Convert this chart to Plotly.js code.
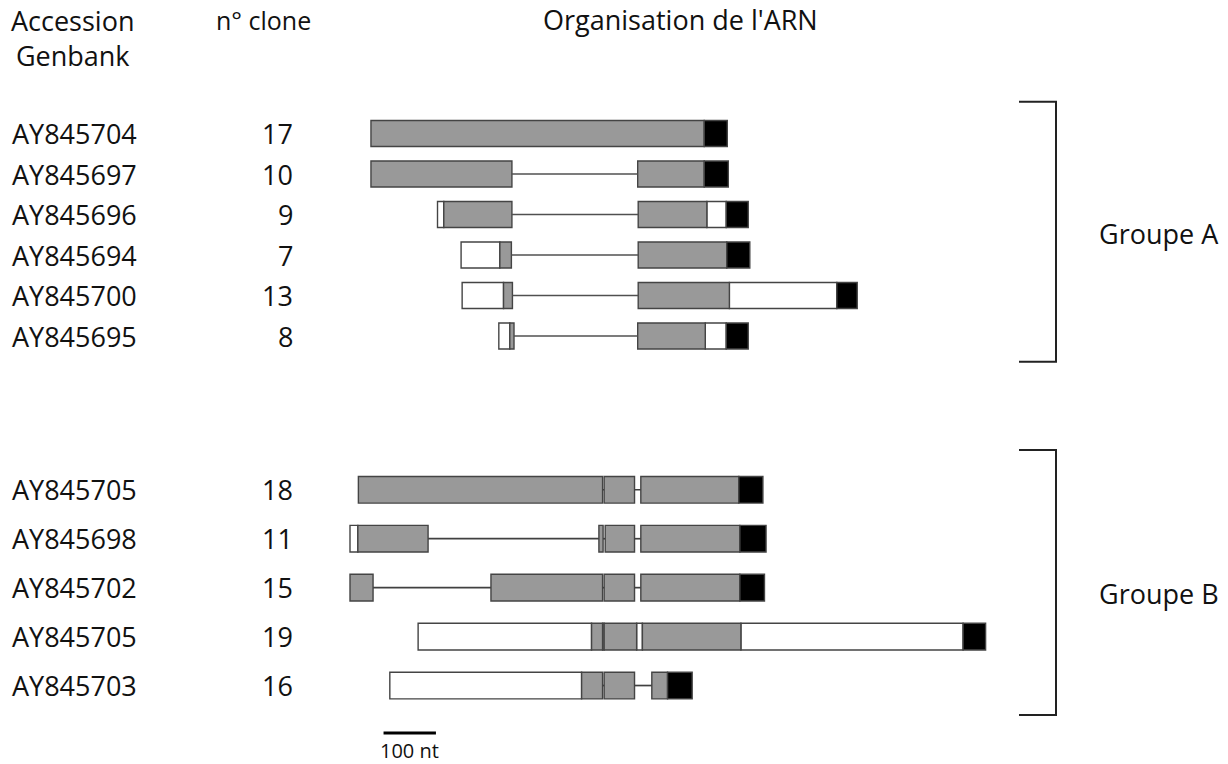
<!DOCTYPE html>
<html>
<head>
<meta charset="utf-8">
<script src="https://cdn.plot.ly/plotly-3.0.1.min.js"></script>
<style>html,body{margin:0;padding:0;background:#fff;}#chart{width:1228px;height:764px;}</style>
</head>
<body>
<div id="chart"></div>
<script>
// ---- Data (positions in nucleotides) ----
const clonesA = ["17", "10", "9", "7", "13", "8"];
const accessionA = ["AY845704", "AY845697", "AY845696", "AY845694", "AY845700", "AY845695"];
const clonesB = ["18", "11", "15", "19", "16"];
const accessionB = ["AY845705", "AY845698", "AY845702", "AY845705", "AY845703"];

// segment = [start, end, kind]  kind: U = UTR (white), C = coding (grey), S = end (black), I = intron (line)
const clone17 = [[40, 676, "C"], [676, 720, "S"]];
const clone10 = [[40, 309, "C"], [309, 549, "I"], [549, 676, "C"], [676, 722, "S"]];
const clone9  = [[167, 179, "U"], [179, 309, "C"], [309, 550, "I"], [550, 681, "C"], [681, 718, "U"], [718, 760, "S"]];
const clone7  = [[212, 286, "U"], [286, 308, "C"], [308, 550, "I"], [550, 719, "C"], [719, 763, "S"]];
const clone13 = [[214, 293, "U"], [293, 310, "C"], [310, 550, "I"], [550, 724, "C"], [724, 929, "U"], [929, 968, "S"]];
const clone8  = [[284, 305, "U"], [305, 313, "C"], [313, 549, "I"], [549, 678, "C"], [678, 718, "U"], [718, 760, "S"]];

const clone18 = [[16, 482, "C"], [482, 485, "I"], [485, 543, "C"], [543, 555, "I"], [555, 742, "C"], [742, 788, "S"]];
const clone11 = [[0, 15, "U"], [15, 149, "C"], [149, 475, "I"], [475, 483, "C"], [483, 487, "I"], [487, 543, "C"], [543, 555, "I"], [555, 744, "C"], [744, 794, "S"]];
const clone15 = [[0, 44, "C"], [44, 269, "I"], [269, 482, "C"], [482, 485, "I"], [485, 543, "C"], [543, 555, "I"], [555, 744, "C"], [744, 791, "S"]];
const clone19 = [[130, 461, "U"], [461, 482, "C"], [482, 485, "U"], [485, 547, "C"], [547, 558, "U"], [558, 746, "C"], [746, 1170, "U"], [1170, 1213, "S"]];
const clone16 = [[76, 442, "U"], [442, 482, "C"], [482, 485, "I"], [485, 543, "C"], [543, 576, "I"], [576, 606, "C"], [606, 653, "S"]];

const segmentsA = [clone17, clone10, clone9, clone7, clone13, clone8];
const segmentsB = [clone18, clone11, clone15, clone19, clone16];

const scaleStart = 64;   // nt
const scaleLength = 100; // nt

// ---- Build traces ----
const W = 1228, H = 764;
const paperX = px => px / W;
const paperY = py => 1 - py / H;

const kindStyle = {
  U: {fill: "#ffffff"},
  C: {fill: "#999999"},
  S: {fill: "#000000"}
};

function buildTraces(clones, segs, yaxis, barWidth, lineColor) {
  const out = [];
  ["U", "C", "S"].forEach(kind => {
    const y = [], x = [], base = [];
    segs.forEach((row, i) => {
      row.forEach(s => {
        if (s[2] === kind) { y.push(clones[i]); base.push(s[0]); x.push(s[1] - s[0]); }
      });
    });
    out.push({
      type: "bar", orientation: "h", y: y, x: x, base: base, yaxis: yaxis, xaxis: "x",
      width: barWidth,
      marker: {color: kindStyle[kind].fill, line: {color: "#444444", width: 1.4}},
      hoverinfo: "skip", showlegend: false
    });
  });
  const lx = [], ly = [];
  segs.forEach((row, i) => {
    row.forEach(s => {
      if (s[2] === "I") { lx.push(s[0], s[1], null); ly.push(clones[i], clones[i], null); }
    });
  });
  out.push({
    type: "scatter", mode: "lines", x: lx, y: ly, yaxis: yaxis, xaxis: "x",
    line: {color: lineColor, width: 1.7}, hoverinfo: "skip", showlegend: false, connectgaps: false
  });
  return out;
}

const data = [].concat(
  buildTraces(clonesA, segmentsA, "y", 0.64, "#505050"),
  buildTraces(clonesB, segmentsB, "y2", 0.545, "#404040")
);

// ---- Layout ----
const font = {family: "Open Sans, sans-serif", size: 27, color: "#111111"};
const annotations = [];

function rowLabels(clones, accs, yref) {
  clones.forEach((c, i) => {
    annotations.push({xref: "paper", yref: yref, x: paperX(10), y: i, xanchor: "left", yanchor: "middle",
      text: accs[i], showarrow: false, font: font});
    annotations.push({xref: "paper", yref: yref, x: paperX(295), y: i, xanchor: "right", yanchor: "middle",
      text: c, showarrow: false, font: font});
  });
}
rowLabels(clonesA, accessionA, "y");
rowLabels(clonesB, accessionB, "y2");

annotations.push(
  {xref: "paper", yref: "paper", x: paperX(72), y: paperY(38), xanchor: "center", yanchor: "middle",
   text: "Accession<br>Genbank", showarrow: false, font: font},
  {xref: "paper", yref: "paper", x: paperX(263), y: paperY(20), xanchor: "center", yanchor: "middle",
   text: "n° clone", showarrow: false, font: {family: "Open Sans, sans-serif", size: 25, color: "#111111"}},
  {xref: "paper", yref: "paper", x: paperX(680), y: paperY(20), xanchor: "center", yanchor: "middle",
   text: "Organisation de l'ARN", showarrow: false, font: font},
  {xref: "paper", yref: "paper", x: paperX(1097), y: paperY(233), xanchor: "left", yanchor: "middle",
   text: "Groupe A", showarrow: false, font: font},
  {xref: "paper", yref: "paper", x: paperX(1097), y: paperY(593), xanchor: "left", yanchor: "middle",
   text: "Groupe B", showarrow: false, font: font},
  {xref: "x", yref: "paper", x: scaleStart + scaleLength / 2, y: paperY(750), xanchor: "center", yanchor: "middle",
   text: "100 nt", showarrow: false, font: {family: "Open Sans, sans-serif", size: 20, color: "#111111"}}
);

function bracket(top, bottom) {
  const x0 = paperX(1019), x1 = paperX(1056);
  return {type: "path", xref: "paper", yref: "paper",
    path: `M ${x0},${paperY(top)} L ${x1},${paperY(top)} L ${x1},${paperY(bottom)} L ${x0},${paperY(bottom)}`,
    line: {color: "#222222", width: 2}};
}

const shapes = [
  bracket(101.7, 361.7),
  bracket(450, 715),
  {type: "line", xref: "x", yref: "paper", x0: scaleStart, x1: scaleStart + scaleLength,
   y0: paperY(733), y1: paperY(733), line: {color: "#000000", width: 3}}
];

const xPx0 = 350, pxPerNt = 0.524;
const layout = {
  width: W, height: H,
  margin: {l: 0, r: 0, t: 0, b: 0, pad: 0},
  paper_bgcolor: "#ffffff", plot_bgcolor: "#ffffff",
  barmode: "overlay",
  hovermode: false,
  showlegend: false,
  xaxis: {range: [-xPx0 / pxPerNt, (W - xPx0) / pxPerNt], visible: false, fixedrange: true},
  yaxis: {type: "category", categoryorder: "array", categoryarray: clonesA,
          range: [5.5, -0.5], domain: [paperY(356.25), paperY(113.25)], visible: false, fixedrange: true},
  yaxis2: {type: "category", categoryorder: "array", categoryarray: clonesB, anchor: "x",
           range: [4.5, -0.5], domain: [paperY(710), paperY(465.3)], visible: false, fixedrange: true},
  annotations: annotations,
  shapes: shapes
};

Plotly.newPlot("chart", data, layout, {displayModeBar: false, staticPlot: true});
</script>
</body>
</html>
